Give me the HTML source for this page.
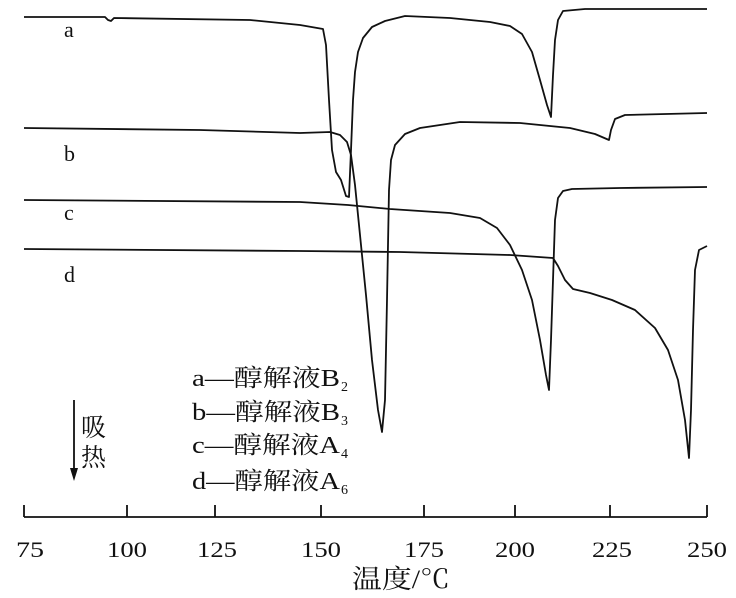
<!DOCTYPE html>
<html><head><meta charset="utf-8"><style>
html,body{margin:0;padding:0;background:#fff;}
svg{display:block;}
text{font-family:"Liberation Serif","Noto Serif CJK SC",serif;fill:#111;}
</style></head><body>
<svg width="736" height="598" viewBox="0 0 736 598" xmlns="http://www.w3.org/2000/svg">
<g fill="none" stroke="#111" stroke-width="1.8" stroke-linejoin="round">
<!-- a -->
<path d="M24,17 L105,17 L108,20 L111,21 L114,18 L250,20 L300,25 L323,29 L326,45 L329,100 L332,150 L336,172 L341,180 L346,196 L349,197 L351,150 L353,100 L355,72 L358,52 L363,38 L372,27 L385,21 L405,16 L450,18 L490,22 L510,26 L522,34 L532,52 L540,80 L547,105 L551,117 L553,75 L555,40 L558,20 L563,11 L585,9 L707,9"/>
<!-- b -->
<path d="M24,128 L200,130 L300,133 L330,132 L340,135 L347,142 L351,155 L355,185 L360,235 L366,295 L372,360 L378,410 L382,432 L385,400 L387,300 L389,190 L391,160 L395,145 L405,134 L420,128 L460,122 L520,123 L570,128 L595,134 L609,140 L611,130 L615,119 L625,115 L707,113"/>
<!-- c -->
<path d="M24,200 L300,202 L348,205 L390,209 L450,213 L480,218 L497,228 L510,245 L522,270 L532,300 L540,340 L546,375 L549,390 L551,340 L553,280 L555,220 L558,198 L563,191 L572,189 L620,188 L707,187"/>
<!-- d -->
<path d="M24,249 L300,251 L400,252 L510,255 L553,258 L558,266 L565,280 L573,289 L590,293 L612,300 L635,310 L655,328 L668,350 L678,380 L685,420 L689,458 L691,410 L693,330 L695,270 L699,250 L707,246"/>
<!-- axis -->
<path d="M24,517 L707,517"/>
<path d="M24,505 V517 M127,505 V517 M215,505 V517 M321,505 V517 M424,505 V517 M515,505 V517 M610,505 V517 M707,505 V517"/>
<!-- arrow -->
<path d="M74,400 L74,472"/>
</g>
<polygon points="70,468 78,468 74,481" fill="#111"/>
<g font-size="22">
<text x="64" y="37">a</text>
<text x="64" y="161">b</text>
<text x="64" y="220">c</text>
<text x="64" y="282">d</text>
</g>
<g font-size="22" text-anchor="middle">
<text x="30" y="557" textLength="28" lengthAdjust="spacingAndGlyphs">75</text>
<text x="127" y="557" textLength="40" lengthAdjust="spacingAndGlyphs">100</text>
<text x="217" y="557" textLength="40" lengthAdjust="spacingAndGlyphs">125</text>
<text x="321" y="557" textLength="40" lengthAdjust="spacingAndGlyphs">150</text>
<text x="424" y="557" textLength="40" lengthAdjust="spacingAndGlyphs">175</text>
<text x="515" y="557" textLength="40" lengthAdjust="spacingAndGlyphs">200</text>
<text x="612" y="557" textLength="40" lengthAdjust="spacingAndGlyphs">225</text>
<text x="707" y="557" textLength="40" lengthAdjust="spacingAndGlyphs">250</text>
</g>
<text x="352" y="588" font-size="26" textLength="98" lengthAdjust="spacingAndGlyphs">温度/℃</text>
<g font-size="25">
<text x="81" y="436">吸</text>
<text x="81" y="466">热</text>
</g>
<g font-size="24">
<text x="192" y="386" textLength="148" lengthAdjust="spacingAndGlyphs">a—醇解液B</text><text x="341" y="391" font-size="14">2</text>
<text x="192" y="420" textLength="148" lengthAdjust="spacingAndGlyphs">b—醇解液B</text><text x="341" y="425" font-size="14">3</text>
<text x="192" y="453" textLength="148" lengthAdjust="spacingAndGlyphs">c—醇解液A</text><text x="341" y="458" font-size="14">4</text>
<text x="192" y="489" textLength="148" lengthAdjust="spacingAndGlyphs">d—醇解液A</text><text x="341" y="494" font-size="14">6</text>
</g>
</svg>
</body></html>
